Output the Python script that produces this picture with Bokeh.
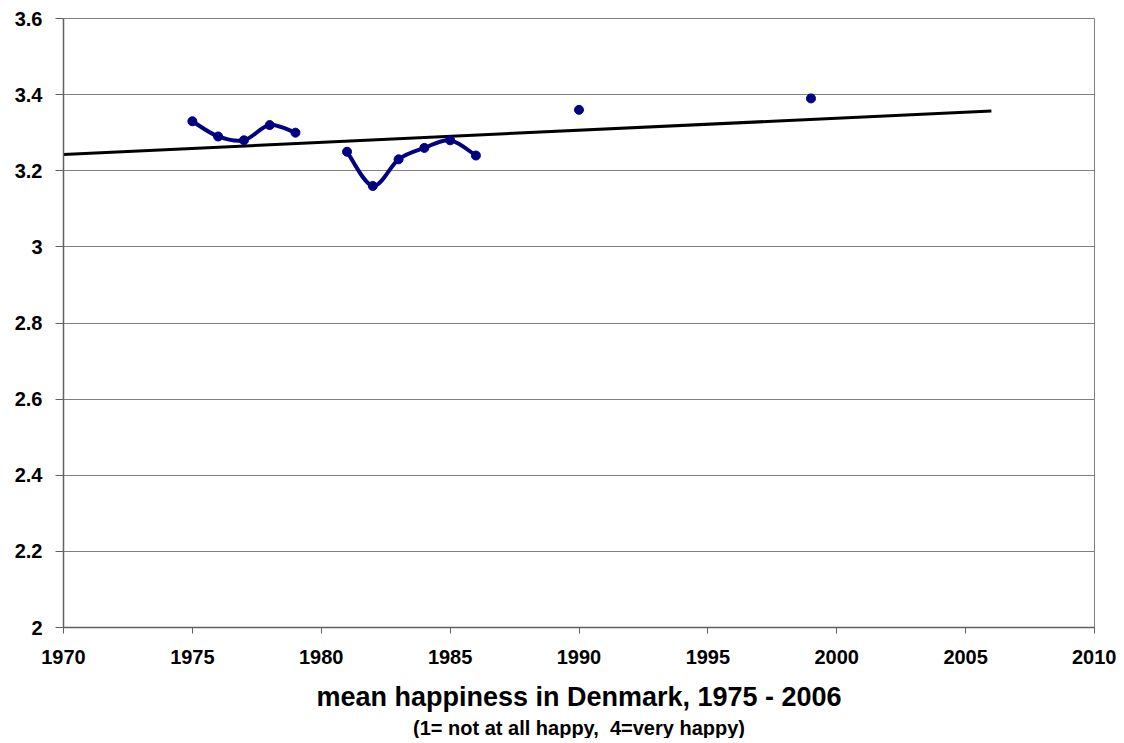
from bokeh.plotting import figure
from bokeh.models import Range1d, FixedTicker, Title
from bokeh.embed import file_html
from bokeh.resources import INLINE

# ---- data ----
years = [1975, 1976, 1977, 1978, 1979, 1981, 1982, 1983, 1984, 1985, 1986, 1990, 1999]
happiness = [3.33, 3.29, 3.28, 3.32, 3.30, 3.25, 3.16, 3.23, 3.26, 3.28, 3.24, 3.36, 3.39]
trend_years = [1970, 2006]
trend_values = [3.243, 3.357]
x_ticks = [1970, 1975, 1980, 1985, 1990, 1995, 2000, 2005, 2010]
y_ticks = [2.0, 2.2, 2.4, 2.6, 2.8, 3.0, 3.2, 3.4, 3.6]
y_tick_labels = ["2", "2.2", "2.4", "2.6", "2.8", "3", "3.2", "3.4", "3.6"]
title_text = "mean happiness in Denmark, 1975 - 2006"
subtitle_text = "(1= not at all happy,\u00a0 4=very happy)"

FONT = "Liberation Sans"
NAVY = "#000080"
AXIS = "#606060"
GRID = "#808080"

p = figure(frame_width=1031, frame_height=609,
           x_range=Range1d(1970, 2010), y_range=Range1d(2, 3.6),
           output_backend="svg", toolbar_location=None,
           min_border_left=63, min_border_top=18, min_border_right=22,
           min_border_bottom=0)

p.background_fill_color = "white"
p.border_fill_color = "white"
p.outline_line_color = GRID
p.outline_line_width = 1

# axes
p.xaxis.ticker = FixedTicker(ticks=x_ticks)
p.yaxis.ticker = FixedTicker(ticks=y_ticks)
p.yaxis.major_label_overrides = {t: l for t, l in zip(y_ticks, y_tick_labels)}
p.xaxis.major_label_overrides = {t: str(t) for t in x_ticks}
for ax in (p.xaxis, p.yaxis):
    ax.axis_line_color = AXIS
    ax.axis_line_width = 1.5
    ax.major_tick_line_color = AXIS
    ax.major_tick_line_width = 1
    ax.major_tick_in = 0
    ax.minor_tick_line_color = None
    ax.major_label_text_font = FONT
    ax.major_label_text_font_style = "bold"
    ax.major_label_text_font_size = "20px"
    ax.major_label_text_color = "black"
p.xaxis.major_tick_out = 6
p.yaxis.major_tick_out = 8
p.xaxis.major_label_standoff = 16
p.yaxis.major_label_standoff = 13

p.xaxis.axis_label = title_text
p.xaxis.axis_label_text_font = FONT
p.xaxis.axis_label_text_font_style = "bold"
p.xaxis.axis_label_text_font_size = "27px"
p.xaxis.axis_label_text_color = "black"
p.xaxis.axis_label_standoff = 15

p.xgrid.grid_line_color = None
p.ygrid.grid_line_color = GRID
p.ygrid.grid_line_width = 1

sub = Title(text=subtitle_text, align="center", text_font=FONT,
            text_font_style="bold", text_font_size="20px",
            text_color="black", standoff=0)
p.add_layout(sub, "below")

# trend line
p.line(trend_years, trend_values, line_color="black", line_width=3)

# smoothed connecting curves for runs of consecutive years
groups = []
cur = [0]
for i in range(1, len(years)):
    if years[i] - years[i - 1] == 1:
        cur.append(i)
    else:
        groups.append(cur)
        cur = [i]
groups.append(cur)

bx0, by0, bx1, by1, cx0, cy0, cx1, cy1 = ([] for _ in range(8))
for g in groups:
    if len(g) < 2:
        continue
    xs = [years[i] for i in g]
    ys = [happiness[i] for i in g]
    n = len(xs)
    for k in range(n - 1):
        kp = max(k - 1, 0)
        kn = min(k + 2, n - 1)
        bx0.append(xs[k]); by0.append(ys[k])
        bx1.append(xs[k + 1]); by1.append(ys[k + 1])
        cx0.append(xs[k] + (xs[k + 1] - xs[kp]) / 6.0)
        cy0.append(ys[k] + (ys[k + 1] - ys[kp]) / 6.0)
        cx1.append(xs[k + 1] - (xs[kn] - xs[k]) / 6.0)
        cy1.append(ys[k + 1] - (ys[kn] - ys[k]) / 6.0)

p.bezier(x0=bx0, y0=by0, x1=bx1, y1=by1, cx0=cx0, cy0=cy0, cx1=cx1, cy1=cy1,
         line_color=NAVY, line_width=4)

p.scatter(years, happiness, marker="circle", size=9,
          fill_color=NAVY, line_color=NAVY)

open("out.html", "w").write(file_html(p, INLINE))
